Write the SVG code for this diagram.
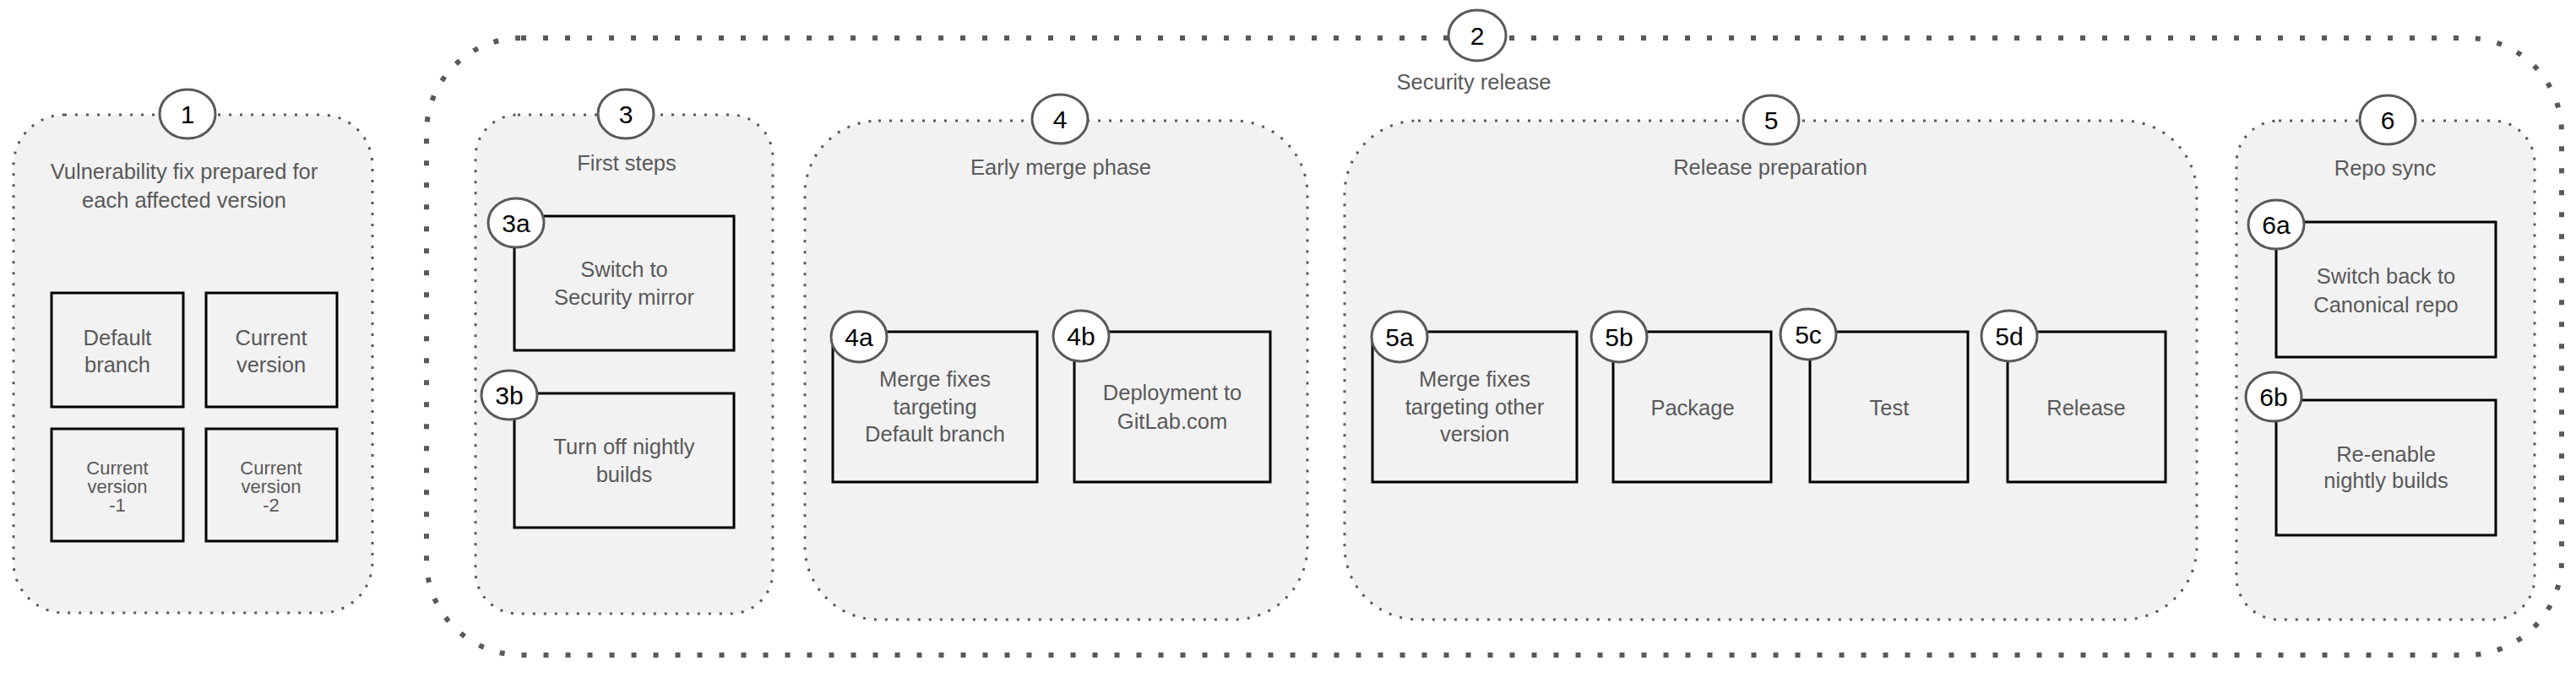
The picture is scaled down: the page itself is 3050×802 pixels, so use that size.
<svg xmlns="http://www.w3.org/2000/svg" width="3050" height="802" viewBox="0 0 3050 802">
<style>
.grp{fill:#f2f2f2;stroke:#595959;stroke-width:3;stroke-dasharray:3 10}
.outer{fill:none;stroke:#595959;stroke-width:6;stroke-dasharray:6 20}
.box{fill:#f2f2f2;stroke:#000;stroke-width:3}
.badge{fill:#fff;stroke:#595959;stroke-width:3}
.lbl{font-family:"Liberation Sans",Arial,sans-serif;font-size:25.5px;fill:#595959;text-anchor:middle}
.sm{font-size:22px}
.num{font-family:"Liberation Sans",Arial,sans-serif;font-size:30px;fill:#000;text-anchor:middle}
</style>
<rect x="0" y="0" width="3050" height="802" fill="#fff"/>

<g id="n2">
<rect class="outer" x="505" y="45" width="2528" height="731" rx="112" ry="112"/>
<ellipse class="badge" cx="1749" cy="42" rx="34" ry="30"/>
<text class="num" x="1749" y="53">2</text>
<text class="lbl" x="1745" y="106">Security release</text>
</g>

<g id="n1">
<rect class="grp" x="16" y="136" width="425" height="590" rx="60" ry="60"/>
<ellipse class="badge" cx="222" cy="135" rx="33" ry="29"/>
<text class="num" x="222" y="146">1</text>
<text class="lbl" x="218" y="212">Vulnerability fix prepared for</text>
<text class="lbl" x="218" y="246">each affected version</text>
</g>
<g id="n1-default">
<rect class="box" x="61" y="347" width="156" height="135"/>
<text class="lbl" x="139" y="409">Default</text>
<text class="lbl" x="139" y="441">branch</text>
</g>
<g id="n1-current">
<rect class="box" x="244" y="347" width="155" height="135"/>
<text class="lbl" x="321" y="409">Current</text>
<text class="lbl" x="321" y="441">version</text>
</g>
<g id="n1-current-1">
<rect class="box" x="61" y="508" width="156" height="133"/>
<text class="lbl sm" x="139" y="562">Current</text>
<text class="lbl sm" x="139" y="584">version</text>
<text class="lbl sm" x="139" y="606">-1</text>
</g>
<g id="n1-current-2">
<rect class="box" x="244" y="508" width="155" height="133"/>
<text class="lbl sm" x="321" y="562">Current</text>
<text class="lbl sm" x="321" y="584">version</text>
<text class="lbl sm" x="321" y="606">-2</text>
</g>

<g id="n3">
<rect class="grp" x="563" y="136" width="352" height="591" rx="50" ry="50"/>
<ellipse class="badge" cx="741" cy="135" rx="33" ry="29"/>
<text class="num" x="741" y="146">3</text>
<text class="lbl" x="742" y="202">First steps</text>
</g>
<g id="n3a">
<rect class="box" x="609" y="256" width="260" height="159"/>
<ellipse class="badge" cx="611" cy="264" rx="33" ry="29"/>
<text class="num" x="611" y="275">3a</text>
<text class="lbl" x="739" y="328">Switch to</text>
<text class="lbl" x="739" y="361">Security mirror</text>
</g>
<g id="n3b">
<rect class="box" x="609" y="466" width="260" height="159"/>
<ellipse class="badge" cx="603" cy="468" rx="33" ry="29"/>
<text class="num" x="603" y="479">3b</text>
<text class="lbl" x="739" y="538">Turn off nightly</text>
<text class="lbl" x="739" y="571">builds</text>
</g>

<g id="n4">
<rect class="grp" x="953" y="143" width="595" height="591" rx="87" ry="87"/>
<ellipse class="badge" cx="1255" cy="141" rx="33" ry="29"/>
<text class="num" x="1255" y="152">4</text>
<text class="lbl" x="1256" y="207">Early merge phase</text>
</g>
<g id="n4a">
<rect class="box" x="986" y="393" width="242" height="178"/>
<ellipse class="badge" cx="1017" cy="399" rx="33" ry="30"/>
<text class="num" x="1017" y="410">4a</text>
<text class="lbl" x="1107" y="458">Merge fixes</text>
<text class="lbl" x="1107" y="491">targeting</text>
<text class="lbl" x="1107" y="523">Default branch</text>
</g>
<g id="n4b">
<rect class="box" x="1272" y="393" width="232" height="178"/>
<ellipse class="badge" cx="1280" cy="398" rx="33" ry="30"/>
<text class="num" x="1280" y="409">4b</text>
<text class="lbl" x="1388" y="474">Deployment to</text>
<text class="lbl" x="1388" y="508">GitLab.com</text>
</g>

<g id="n5">
<rect class="grp" x="1592" y="143" width="1009" height="591" rx="87" ry="87"/>
<ellipse class="badge" cx="2097" cy="142" rx="33" ry="29"/>
<text class="num" x="2097" y="153">5</text>
<text class="lbl" x="2096" y="207">Release preparation</text>
</g>
<g id="n5a">
<rect class="box" x="1625" y="393" width="242" height="178"/>
<ellipse class="badge" cx="1657" cy="399" rx="33" ry="30"/>
<text class="num" x="1657" y="410">5a</text>
<text class="lbl" x="1746" y="458">Merge fixes</text>
<text class="lbl" x="1746" y="491">targeting other</text>
<text class="lbl" x="1746" y="523">version</text>
</g>
<g id="n5b">
<rect class="box" x="1910" y="393" width="187" height="178"/>
<ellipse class="badge" cx="1917" cy="399" rx="33" ry="30"/>
<text class="num" x="1917" y="410">5b</text>
<text class="lbl" x="2004" y="492">Package</text>
</g>
<g id="n5c">
<rect class="box" x="2143" y="393" width="187" height="178"/>
<ellipse class="badge" cx="2141" cy="396" rx="33" ry="30"/>
<text class="num" x="2141" y="407">5c</text>
<text class="lbl" x="2237" y="492">Test</text>
</g>
<g id="n5d">
<rect class="box" x="2377" y="393" width="187" height="178"/>
<ellipse class="badge" cx="2379" cy="398" rx="33" ry="30"/>
<text class="num" x="2379" y="409">5d</text>
<text class="lbl" x="2470" y="492">Release</text>
</g>

<g id="n6">
<rect class="grp" x="2648" y="143" width="353" height="591" rx="50" ry="50"/>
<ellipse class="badge" cx="2827" cy="142" rx="33" ry="29"/>
<text class="num" x="2827" y="153">6</text>
<text class="lbl" x="2824" y="208">Repo sync</text>
</g>
<g id="n6a">
<rect class="box" x="2695" y="263" width="260" height="160"/>
<ellipse class="badge" cx="2695" cy="266" rx="33" ry="29"/>
<text class="num" x="2695" y="277">6a</text>
<text class="lbl" x="2825" y="336">Switch back to</text>
<text class="lbl" x="2825" y="370">Canonical repo</text>
</g>
<g id="n6b">
<rect class="box" x="2695" y="474" width="260" height="160"/>
<ellipse class="badge" cx="2692" cy="470" rx="33" ry="29"/>
<text class="num" x="2692" y="481">6b</text>
<text class="lbl" x="2825" y="547">Re-enable</text>
<text class="lbl" x="2825" y="578">nightly builds</text>
</g>

<g id="connectors"></g>
</svg>
